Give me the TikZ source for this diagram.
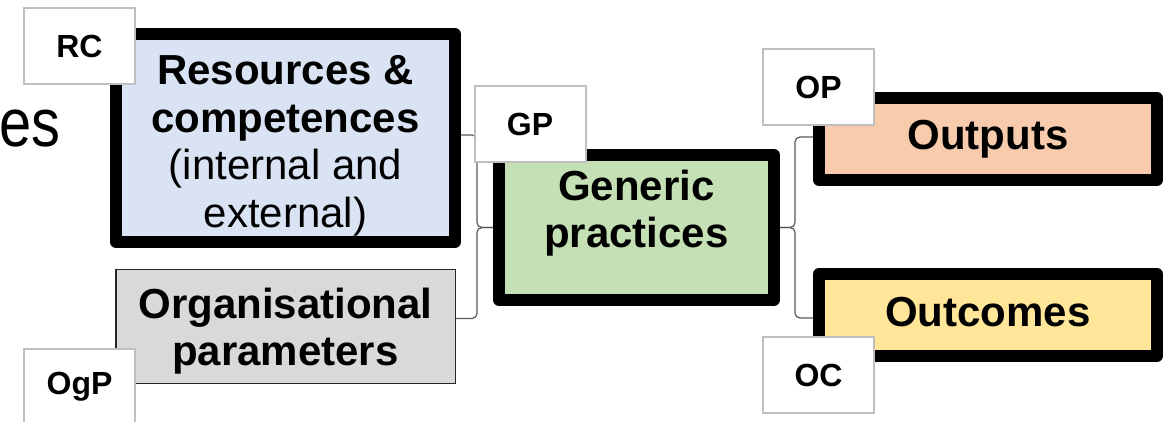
\documentclass[tikz,border=0pt]{standalone}
\usepackage{fontspec}
\usepackage{graphicx}
\setmainfont{Liberation Sans}
\setsansfont{Liberation Sans}
\usetikzlibrary{positioning, calc, backgrounds}
\definecolor{rcblue}{HTML}{DAE3F3}
\definecolor{gpgreen}{HTML}{C5E0B4}
\definecolor{oprose}{HTML}{F8CBAD}
\definecolor{ocyellow}{HTML}{FFE699}
\definecolor{oggrey}{HTML}{D9D9D9}
\definecolor{tagline}{HTML}{BFBFBF}
\definecolor{braceline}{HTML}{595959}
\tikzset{
  box/.style={
    draw=black, fill=#1, line width=12pt, line join=round, inner sep=0pt
  },
  box/.default=white,
  boxtext/.style={
    align=center, inner sep=0pt, font=\fontsize{42}{47.5}\selectfont
  },
  tag/.style={
    draw=tagline, fill=white, line width=2pt, inner sep=0pt,
    minimum width=111pt, minimum height=76pt,
    font=\fontsize{32}{36}\selectfont\bfseries
  },
  brace/.style={draw=braceline, line width=1.2pt, rounded corners=5pt}
}

\begin{document}
\begin{tikzpicture}[x=1pt, y=-1pt]
  \useasboundingbox (0,0) rectangle (1171,422);
  \node[font=\fontsize{68}{70}\selectfont, anchor=base east, inner sep=0pt] (title) at (61,147) {\scalebox{0.85}[1]{es}};

  % boxes
  \node[box=rcblue, minimum width=339pt, minimum height=208pt] (rc) at (285.5,138) {};
  \node[box=gpgreen, minimum width=275pt, minimum height=145pt] (gp) at (636.5,227.5) {};
  \node[box=oprose, minimum width=338pt, minimum height=82pt] (outp) at (988,139) {};
  \node[box=ocyellow, minimum width=338pt, minimum height=82pt, below=82pt of outp] (outc) {};
  \node[draw=black!85, fill=oggrey, line width=1.5pt, inner sep=0pt,
        minimum width=339.5pt, minimum height=113.5pt] (org) at (285.5,326.5) {};

  \node[boxtext] (rctxt) at ([yshift=-8pt]rc.center)
    {\textbf{Resources \&}\\\textbf{competences}\\(internal and\\external)};
  \node[boxtext, font=\fontsize{42}{47.5}\selectfont\bfseries] (gptxt) at ([yshift=14.5pt]gp.center) {Generic\\practices};
  \node[boxtext, font=\fontsize{42}{47.5}\selectfont\bfseries] (outptxt) at (outp.center) {Outputs};
  \node[boxtext, font=\fontsize{42}{47.5}\selectfont\bfseries] (outctxt) at ([yshift=3pt]outc.center) {Outcomes};
  \node[boxtext, font=\fontsize{42}{47.5}\selectfont\bfseries] (orgtxt) at ([yshift=-4.5pt]org.center) {Organisational\\parameters};

  % brackets behind the boxes
  \begin{scope}[on background layer]
    \path (gp.west) ++(-16,0) coordinate (lb);
    \path (gp.east) ++(15,0) coordinate (rb);
    \draw[brace] ([yshift=3pt]rc.east) -- ([yshift=3pt]rc.east -| lb) -- (lb) -- (gp.west);
    \draw[brace] ([yshift=8pt]org.east) -- ([yshift=8pt]org.east -| lb) -- (lb) -- (gp.west);
    \draw[brace] ([yshift=2pt]outp.west) -- ([yshift=2pt]outp.west -| rb) -- (rb) -- (gp.east);
    \draw[brace] ([yshift=-3pt]outc.west) -- ([yshift=-3pt]outc.west -| rb) -- (rb) -- (gp.east);
  \end{scope}

  % tags
  \node[tag] (lrc) at (79.5,46) {RC};
  \node[tag] (lgp) at (530,124) {GP};
  \node[tag] (lop) at (818.5,87) {OP};
  \node[tag] (loc) at (818.5,375) {OC};
  \node[tag] (logp) at (79.5,387) {OgP};
\end{tikzpicture}
\end{document}
